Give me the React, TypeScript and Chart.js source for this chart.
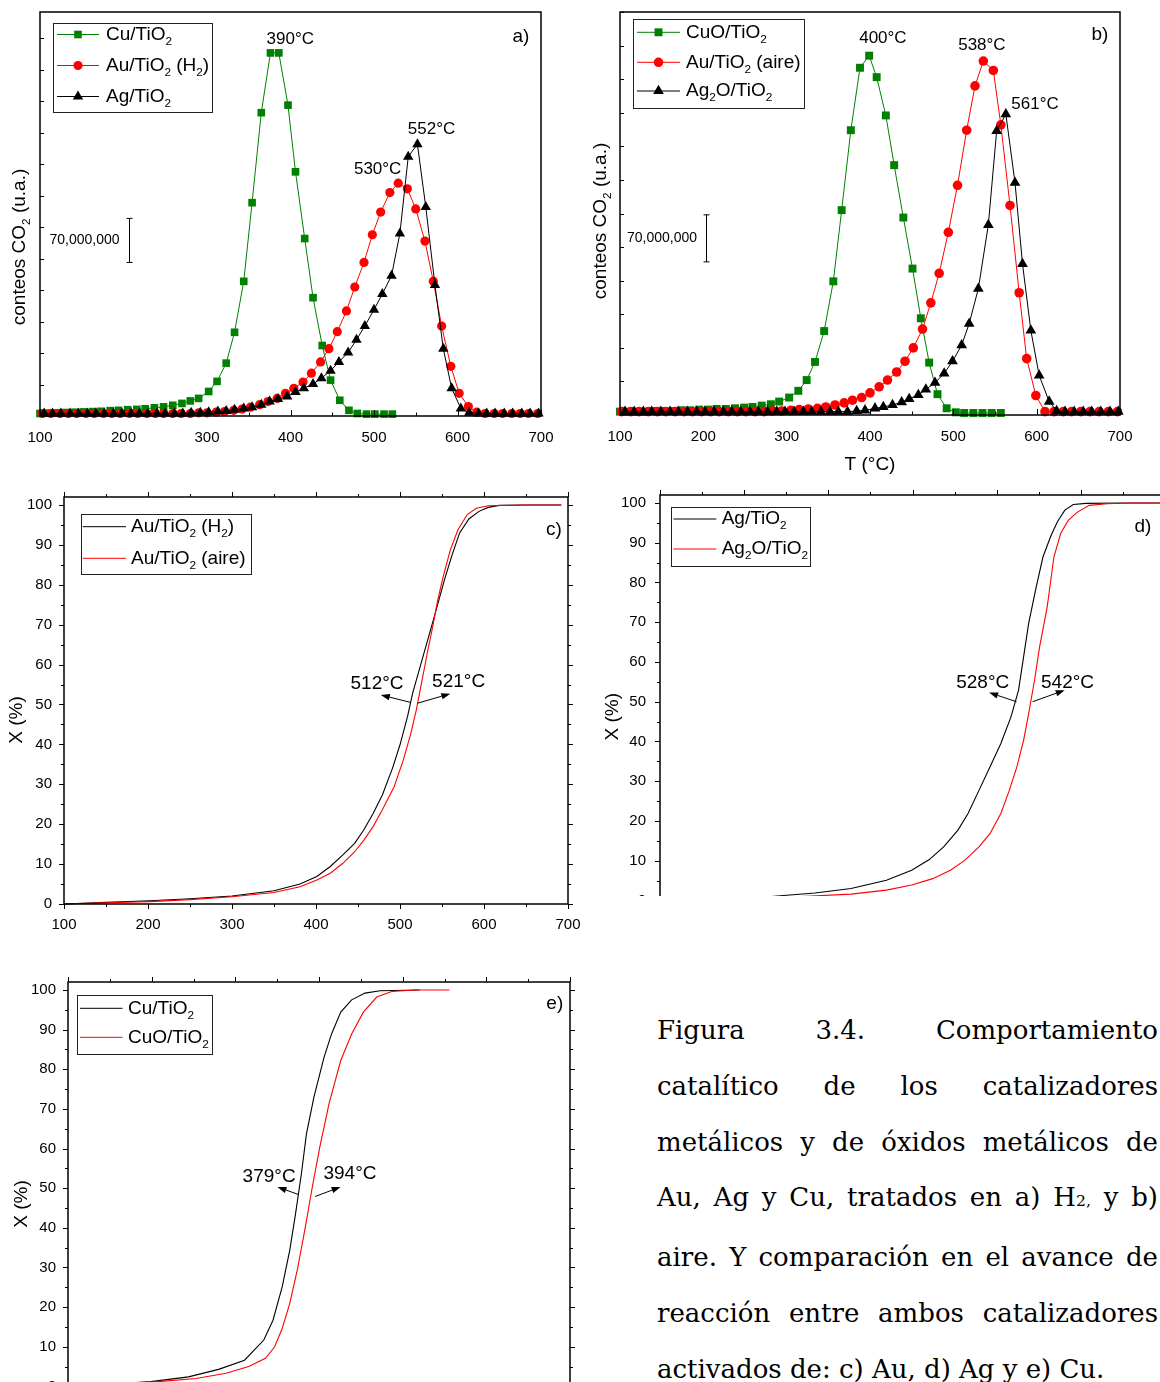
import React, { useEffect, useRef } from 'react';
import { Chart, registerables } from 'chart.js';

Chart.register(...registerables);

// ================= DATA =================
// Panel a) — activated in H2 : CO2 counts (×10^6 a.u.) vs T (°C)
const cuTempA = [100,110,121,131,142,152,163,173,184,194,205,216,226,237,248,259,270,280,290,302,312,323,333,344,354,365,376,386,397,406,417,427,438,448,459,470,480,491,501,512,522];
const cuCountA = [4,4.5,5,5.5,6,6.5,7,7.5,8.5,9,10,10.5,11.5,13,14.5,17,20,24,28,39,55,84,133,214,339,482,577,577,494,388,282,188,112,57,25,9,4,3,3,3,3];
const auTempA = [103,113,124,134,144,155,165,176,186,196,207,217,228,238,248,259,269,280,290,300,311,321,332,342,352,363,373,384,394,404,415,425,436,446,456,467,477,488,498,508,519,529,540,550,561,571,581,592,602,613,623,633,644,654,665,675,685,696];
const auCountA = [4,4,4,4,4,4,4,4,4,4,4,4,4,4,4,4,4,4,5,5,6,7,9,11,14,18,23,28,36,44,54,68,86,107,134,167,205,244,288,324,355,370,361,329,278,214,143,79,36,15,6,4,4,4,4,4,4,4];
const agTempA = [105,115,125,136,146,157,167,177,188,198,209,219,229,240,250,261,271,281,292,302,313,323,333,344,354,365,375,385,396,406,416,427,437,448,458,469,479,489,500,510,521,531,541,552,562,573,583,593,604,614,625,635,645,656,666,677,687,697];
const agCountA = [4,4,4,4,4,4,4,4,4,4,4,4,4,4,4,4,4,5,5,6,7,8,10,12,14,18,23,27,31,38,44,51,60,72,86,101,121,143,169,194,223,290,412,432,332,208,107,44,12,5,4,4,4,4,4,4,4,4];

// Panel b) — activated in air
const cuoTempB = [100,109,120,131,141,152,163,174,184,195,206,216,227,238,249,259,270,281,291,303,314,324,334,345,356,366,377,388,399,408,419,429,440,451,461,471,481,492,503,513,524,535,546,557];
const cuoCountB = [5,5,5,5,6,6,6,7,7,8,8,9,9,10,11,12,14,16,20,26,36,52,79,125,199,305,424,517,535,503,446,372,294,218,144,78,31,10,4,3,3,3,3,3];
const auTempB = [102,113,123,134,145,155,166,177,187,198,209,219,230,241,251,262,273,283,294,305,315,326,337,347,358,369,379,390,400,411,421,432,442,452,463,473,483,494,505,516,526,536,548,557,568,579,588,599,610,621,632,642,653,664,675,686,697];
const auCountB = [5,5,5,5,5,5,5,5,5,5,5,5,5,5,5,5,5,6,6,7,8,9,10,12,15,18,22,26,33,42,52,64,80,100,128,167,211,272,342,424,490,527,513,432,312,182,84,29,5,5,5,5,5,5,5,5,5];
const agoTempB = [106,117,128,138,149,160,170,181,192,202,213,224,234,245,256,266,277,288,298,309,320,330,341,352,362,373,384,394,406,416,427,438,447,458,467,478,489,499,510,519,530,542,552,563,574,583,593,603,615,624,634,645,656,666,677,688,698];
const agoCountB = [5,5,5,5,5,5,5,5,5,5,5,5,5,5,5,5,5,5,5,5,5,5,5,5,5,5,6,7,10,12,15,19,24,30,38,48,62,80,104,136,188,283,423,448,346,225,126,59,20,6,5,5,5,5,5,5,5];

// Panel c) — conversion X (%) Au
const auH2TempC = [100,150,202,250,300,350,381,401,417,432,446,457,468,479,491,500,509,515,524,533,542,553,562,571,582,594,605,618,649,692];
const auH2ConvC = [0,0.4,0.8,1.3,2.0,3.3,5.0,6.9,9.4,12.3,15.2,18.6,22.7,27.3,34.0,39.9,47.0,52.8,59.5,66.2,72.9,81.3,87.5,93.0,96.5,98.4,99.4,99.9,100,100];
const auAirTempC = [100,150,202,250,300,350,381,401,417,432,446,457,468,479,493,504,513,519.5,526,532.5,539,545,551.5,560,569,580,591,605,649,692];
const auAirConvC = [0,0.3,0.6,1.1,1.8,2.9,4.3,6.0,7.7,10.2,13.1,16.0,19.4,23.6,29.4,36.1,42.8,48.7,55.8,62.9,69.6,76.3,82.1,88.8,93.8,97.6,99.2,99.8,100,100];

// Panel d) — conversion X (%) Ag
const agTempD = [100,160,221,284,327,369,399,420,437,454,466,479,492,505,517,526,532,538,547,555,564,572,581,591,606,650,694];
const agConvD = [0,0.2,0.8,1.9,3.0,5.1,7.6,10.3,13.5,17.7,21.9,27.7,33.6,39.5,46.2,52.9,61.3,69.7,78.9,86.4,91.5,95.2,98.2,99.6,99.9,100,100];
const agoTempD = [100,180,250,327,369,399,424,445,462,479,492,505,515,524,532,538,545,551,560,568,576,585,596,610,631,660,694];
const agoConvD = [0,0.2,0.8,1.6,2.6,3.9,5.5,7.6,10.1,13.5,16.8,21.9,27.7,33.6,40.3,47.0,55.4,63.8,73.8,86.4,92.3,95.6,97.7,99.4,99.8,100,100];

// Panel e) — conversion X (%) Cu
const cuTempE = [100,150,199,244,280,311,334,345,356,365,372,379,385,394,406,415,426,439,455,473,520];
const cuConvE = [0,0.5,1.2,2.4,4.3,6.6,11.7,16.7,25.1,34.3,43.6,53.7,63.7,73.0,83.0,88.9,94.4,97.5,99.2,99.8,100];
const cuoTempE = [100,150,208,253,289,316,336,347,356,365,374,383,392,401,412,426,439,453,469,487,514,556];
const cuoConvE = [0,0.4,1.2,2.0,3.3,5.0,7.1,10.0,14.6,20.9,29.3,39.4,50.3,60.4,71.3,82.2,88.9,94.4,98.2,99.6,100,100];

// Ticks
const tempTicks = [100, 200, 300, 400, 500, 600, 700];
const tempMinorTicks = [150, 250, 350, 450, 550, 650];
const countTicks = [50, 100, 150, 200, 250, 300, 350, 400, 450, 500, 550, 600];
const convTicks = [0, 10, 20, 30, 40, 50, 60, 70, 80, 90, 100];
const convMinorTicks = [5, 15, 25, 35, 45, 55, 65, 75, 85, 95];

// Labels ("_x" = subscript x)
const legendA = ['Cu/TiO_2', 'Au/TiO_2 (H_2)', 'Ag/TiO_2'];
const legendB = ['CuO/TiO_2', 'Au/TiO_2 (aire)', 'Ag_2O/TiO_2'];
const legendC = ['Au/TiO_2 (H_2)', 'Au/TiO_2 (aire)'];
const legendD = ['Ag/TiO_2', 'Ag_2O/TiO_2'];
const legendE = ['Cu/TiO_2', 'CuO/TiO_2'];
const yTitleCounts = 'conteos CO_2 (u.a.)';
const yTitleConv = 'X (%)';
const xTitleTemp = 'T (°C)';
const scaleBarText = '70,000,000';

// Annotations (data coordinates)
const peaksA = [
  { text: '390°C', t: 399.8, v: 598 },
  { text: '530°C', t: 504.4, v: 392 },
  { text: '552°C', t: 568.9, v: 456 },
];
const peaksB = [
  { text: '400°C', t: 415.5, v: 561 },
  { text: '538°C', t: 534.3, v: 551 },
  { text: '561°C', t: 598.1, v: 463 },
];
const t50C = [
  { text: '512°C', t: 472.7, v: 55.3 },
  { text: '521°C', t: 569.8, v: 55.8 },
];
const arrowsC = [
  { t0: 513, v0: 50.5, t1: 477.2, v1: 52.4 },
  { t0: 520.6, v0: 50.3, t1: 559.9, v1: 52.7 },
];
const t50D = [
  { text: '528°C', t: 483.4, v: 54.8 },
  { text: '542°C', t: 584.2, v: 54.8 },
];
const arrowsD = [
  { t0: 523.6, v0: 50, t1: 491, v1: 52.3 },
  { t0: 542.7, v0: 50, t1: 580.8, v1: 52.9 },
];
const t50E = [
  { text: '379°C', t: 340.4, v: 53.0 },
  { text: '394°C', t: 437, v: 53.7 },
];
const arrowsE = [
  { t0: 375.5, v0: 48.4, t1: 350.3, v1: 50.3 },
  { t0: 395.3, v0: 47.9, t1: 425.8, v1: 50.3 },
];

// ================= STYLE / HELPERS =================
const FONT = "'Liberation Sans', Arial, Helvetica, sans-serif";
const GREEN = '#008000';
const RED = '#FF0000';
const BLACK = '#000000';

type Marker = 'rect' | 'circle' | 'triangle';
type Series = { label: string; x: number[]; y: number[]; color: string; marker?: Marker; r?: number; order: number; lw: number };
type Note = { text: string; t: number; v: number };
type Arrow = { t0: number; v0: number; t1: number; v1: number };
type Decor = {
  tickDir: 'in' | 'out';
  mirror: boolean;
  xMajor: number[]; xMinor: number[]; yMajor: number[]; yMinor: number[];
  xMajorLen: number; xMinorLen: number; yMajorLen: number; yMinorLen: number;
  frameWidth: number;
  yTitle: { text: string; x: number; y: number; size: number };
  xTitle?: { text: string; y: number; size: number };
  legend: { x: number; y: number; w: number; h: number; rows: number[]; x0: number; x1: number; textX: number; size: number };
  panel: { text: string; x: number; y: number; size: number };
  notes: Note[]; noteSize: number;
  arrows: Arrow[];
  bar?: { t: number; v0: number; v1: number; text: string; size: number; gap: number };
};
type PanelSpec = {
  W: number; H: number;
  area: { l: number; t: number; r: number; b: number };
  xMin: number; xMax: number; yMin: number; yMax: number;
  xTickVals: number[]; yTickVals: number[]; showYLabels: boolean;
  xLabelPad: number; yLabelPad: number; tickFont: number;
  series: Series[];
  decor: Decor;
};

const fontStr = (size: number) => `${size}px ${FONT}`;

function parseRich(s: string) {
  const out: { t: string; sub: boolean }[] = [];
  let buf = '';
  for (let i = 0; i < s.length; i++) {
    if (s[i] === '_' && i + 1 < s.length) {
      if (buf) out.push({ t: buf, sub: false });
      buf = '';
      out.push({ t: s[i + 1], sub: true });
      i++;
    } else buf += s[i];
  }
  if (buf) out.push({ t: buf, sub: false });
  return out;
}

function drawRich(ctx: CanvasRenderingContext2D, s: string, x: number, y: number, size: number, align: 'left' | 'center' | 'right') {
  const segs = parseRich(s);
  const subSize = size * 0.62;
  let w = 0;
  for (const g of segs) {
    ctx.font = fontStr(g.sub ? subSize : size);
    w += ctx.measureText(g.t).width;
  }
  let cx = align === 'left' ? x : align === 'center' ? x - w / 2 : x - w;
  ctx.textAlign = 'left';
  ctx.textBaseline = 'middle';
  for (const g of segs) {
    ctx.font = fontStr(g.sub ? subSize : size);
    ctx.fillText(g.t, cx, g.sub ? y + size * 0.38 : y);
    cx += ctx.measureText(g.t).width;
  }
}

function drawMarker(ctx: CanvasRenderingContext2D, kind: Marker, x: number, y: number, r: number, color: string) {
  ctx.fillStyle = color;
  ctx.beginPath();
  if (kind === 'rect') {
    const h = r * Math.SQRT1_2;
    ctx.rect(x - h, y - h, 2 * h, 2 * h);
  } else if (kind === 'circle') {
    ctx.arc(x, y, r, 0, Math.PI * 2);
  } else {
    for (let k = 0; k < 3; k++) {
      const a = (k * 2 * Math.PI) / 3;
      const px = x + Math.sin(a) * r;
      const py = y - Math.cos(a) * r;
      if (k === 0) ctx.moveTo(px, py);
      else ctx.lineTo(px, py);
    }
    ctx.closePath();
  }
  ctx.fill();
}

function makeDecor(p: PanelSpec) {
  const d = p.decor;
  return {
    id: 'decor',
    afterDraw(chart: any) {
      const ctx: CanvasRenderingContext2D = chart.ctx;
      const a = chart.chartArea;
      const xs = chart.scales.x;
      const ys = chart.scales.y;
      const line = (x0: number, y0: number, x1: number, y1: number) => {
        ctx.beginPath();
        ctx.moveTo(x0, y0);
        ctx.lineTo(x1, y1);
        ctx.stroke();
      };
      ctx.save();
      // ticks
      ctx.strokeStyle = '#000';
      ctx.lineWidth = 1;
      const s = d.tickDir === 'in' ? -1 : 1;
      const tx = (vals: number[], len: number) => {
        if (!len) return;
        vals.forEach((v) => {
          const px = Math.round(xs.getPixelForValue(v)) + 0.5;
          line(px, a.bottom, px, a.bottom + s * len);
          if (d.mirror) line(px, a.top, px, a.top - s * len);
        });
      };
      const ty = (vals: number[], len: number) => {
        if (!len) return;
        vals.forEach((v) => {
          const py = Math.round(ys.getPixelForValue(v)) + 0.5;
          line(a.left, py, a.left - s * len, py);
          if (d.mirror) line(a.right, py, a.right + s * len, py);
        });
      };
      tx(d.xMajor, d.xMajorLen);
      tx(d.xMinor, d.xMinorLen);
      ty(d.yMajor, d.yMajorLen);
      ty(d.yMinor, d.yMinorLen);
      // frame
      ctx.lineWidth = d.frameWidth;
      ctx.strokeRect(a.left, a.top, a.right - a.left, a.bottom - a.top);

      ctx.fillStyle = '#000';
      // y title
      ctx.save();
      ctx.translate(d.yTitle.x, d.yTitle.y);
      ctx.rotate(-Math.PI / 2);
      drawRich(ctx, d.yTitle.text, 0, 0, d.yTitle.size, 'center');
      ctx.restore();
      // x title
      if (d.xTitle) drawRich(ctx, d.xTitle.text, (a.left + a.right) / 2, d.xTitle.y, d.xTitle.size, 'center');

      // legend
      const L = d.legend;
      ctx.fillStyle = '#fff';
      ctx.fillRect(L.x, L.y, L.w, L.h);
      ctx.strokeStyle = '#222';
      ctx.lineWidth = 1;
      ctx.strokeRect(Math.round(L.x) + 0.5, Math.round(L.y) + 0.5, Math.round(L.w), Math.round(L.h));
      p.series.forEach((sr, i) => {
        const yy = L.rows[i];
        ctx.strokeStyle = sr.color;
        ctx.lineWidth = 1;
        line(L.x0, yy, L.x1, yy);
        if (sr.marker) drawMarker(ctx, sr.marker, (L.x0 + L.x1) / 2, yy, sr.r || 5, sr.color);
        ctx.fillStyle = '#000';
        drawRich(ctx, sr.label, L.textX, yy, L.size, 'left');
      });

      // panel label
      ctx.fillStyle = '#000';
      drawRich(ctx, d.panel.text, d.panel.x, d.panel.y, d.panel.size, 'center');

      // notes
      d.notes.forEach((n) => {
        drawRich(ctx, n.text, xs.getPixelForValue(n.t), ys.getPixelForValue(n.v), d.noteSize, 'center');
      });

      // arrows
      ctx.strokeStyle = '#000';
      ctx.fillStyle = '#000';
      ctx.lineWidth = 1;
      d.arrows.forEach((ar) => {
        const x0 = xs.getPixelForValue(ar.t0), y0 = ys.getPixelForValue(ar.v0);
        const x1 = xs.getPixelForValue(ar.t1), y1 = ys.getPixelForValue(ar.v1);
        const ang = Math.atan2(y1 - y0, x1 - x0);
        const HL = 9, HW = 3.2;
        const bx = x1 - HL * Math.cos(ang), by = y1 - HL * Math.sin(ang);
        line(x0, y0, bx, by);
        ctx.beginPath();
        ctx.moveTo(x1, y1);
        ctx.lineTo(bx + HW * Math.sin(ang), by - HW * Math.cos(ang));
        ctx.lineTo(bx - HW * Math.sin(ang), by + HW * Math.cos(ang));
        ctx.closePath();
        ctx.fill();
      });

      // scale bar
      if (d.bar) {
        const b = d.bar;
        const px = Math.round(xs.getPixelForValue(b.t)) + 0.5;
        const p0 = ys.getPixelForValue(b.v0), p1 = ys.getPixelForValue(b.v1);
        ctx.strokeStyle = '#000';
        ctx.lineWidth = 1;
        line(px, p0, px, p1);
        line(px - 3, p0, px + 3, p0);
        line(px - 3, p1, px + 3, p1);
        ctx.fillStyle = '#000';
        drawRich(ctx, b.text, px - b.gap, (p0 + p1) / 2, b.size, 'right');
      }
      ctx.restore();
    },
  };
}

const zeroPad = (sc: any) => {
  sc.paddingLeft = 0;
  sc.paddingRight = 0;
  sc.paddingTop = 0;
  sc.paddingBottom = 0;
};

function buildChart(canvas: HTMLCanvasElement, p: PanelSpec) {
  const datasets = p.series.map((s) => ({
    label: s.label,
    data: s.x.map((xv, i) => ({ x: xv, y: s.y[i] })),
    showLine: true,
    borderColor: s.color,
    backgroundColor: s.color,
    borderWidth: s.lw,
    pointStyle: s.marker || 'circle',
    pointRadius: s.marker ? s.r : 0,
    pointHoverRadius: s.marker ? s.r : 0,
    pointBorderWidth: 0,
    pointBackgroundColor: s.color,
    tension: 0,
    order: s.order,
    clip: false,
  }));
  return new Chart(canvas, {
    type: 'scatter',
    data: { datasets } as any,
    options: {
      animation: false,
      responsive: false,
      maintainAspectRatio: false,
      events: [],
      layout: { autoPadding: false, padding: { left: 0, top: p.area.t, right: p.W - p.area.r, bottom: 0 } },
      plugins: { legend: { display: false }, tooltip: { enabled: false }, title: { display: false } },
      scales: {
        x: {
          type: 'linear',
          position: 'bottom',
          min: p.xMin,
          max: p.xMax,
          grid: { display: false, drawTicks: false, tickLength: 0 },
          border: { display: false },
          afterFit: (sc: any) => { sc.height = p.H - p.area.b; zeroPad(sc); },
          afterBuildTicks: (sc: any) => { sc.ticks = p.xTickVals.map((v) => ({ value: v })); },
          ticks: {
            display: true, autoSkip: false, maxRotation: 0, minRotation: 0,
            padding: p.xLabelPad, color: '#000',
            font: { family: FONT, size: p.tickFont },
            callback: (v: any) => String(v),
          },
        },
        y: {
          type: 'linear',
          position: 'left',
          min: p.yMin,
          max: p.yMax,
          grid: { display: false, drawTicks: false, tickLength: 0 },
          border: { display: false },
          afterFit: (sc: any) => { sc.width = p.area.l; zeroPad(sc); },
          afterBuildTicks: (sc: any) => { sc.ticks = p.yTickVals.map((v) => ({ value: v })); },
          ticks: {
            display: p.showYLabels, autoSkip: false,
            padding: p.yLabelPad, color: '#000',
            font: { family: FONT, size: p.tickFont },
            callback: (v: any) => String(v),
          },
        },
      },
    } as any,
    plugins: [makeDecor(p)],
  });
}

// ================= PANELS =================
const panelA: PanelSpec = {
  W: 560, H: 460, area: { l: 40, t: 12, r: 541, b: 416 },
  xMin: 100, xMax: 700, yMin: 0, yMax: 642,
  xTickVals: tempTicks, yTickVals: countTicks, showYLabels: false,
  xLabelPad: 13, yLabelPad: 10, tickFont: 15,
  series: [
    { label: legendA[0], x: cuTempA, y: cuCountA, color: GREEN, marker: 'rect', r: 5.4, order: 2, lw: 1 },
    { label: legendA[1], x: auTempA, y: auCountA, color: RED, marker: 'circle', r: 4.6, order: 1, lw: 1 },
    { label: legendA[2], x: agTempA, y: agCountA, color: BLACK, marker: 'triangle', r: 6, order: 0, lw: 1 },
  ],
  decor: {
    tickDir: 'in', mirror: false,
    xMajor: tempTicks, xMinor: tempMinorTicks, yMajor: countTicks, yMinor: [],
    xMajorLen: 6, xMinorLen: 3.5, yMajorLen: 4, yMinorLen: 0, frameWidth: 1.5,
    yTitle: { text: yTitleCounts, x: 19.5, y: 247, size: 19 },
    legend: { x: 53, y: 23, w: 159, h: 89, rows: [34.5, 65.5, 96.5], x0: 57, x1: 99, textX: 106, size: 19 },
    panel: { text: 'a)', x: 521, y: 37, size: 19 },
    notes: peaksA, noteSize: 17,
    arrows: [],
    bar: { t: 206.3, v0: 244, v1: 314, text: scaleBarText, size: 14, gap: 10 },
  },
};

const panelB: PanelSpec = {
  W: 580, H: 480, area: { l: 40, t: 12, r: 540, b: 415 },
  xMin: 100, xMax: 700, yMin: 0, yMax: 600,
  xTickVals: tempTicks, yTickVals: countTicks, showYLabels: false,
  xLabelPad: 13, yLabelPad: 10, tickFont: 15,
  series: [
    { label: legendB[0], x: cuoTempB, y: cuoCountB, color: GREEN, marker: 'rect', r: 5.6, order: 2, lw: 1 },
    { label: legendB[1], x: auTempB, y: auCountB, color: RED, marker: 'circle', r: 4.8, order: 1, lw: 1 },
    { label: legendB[2], x: agoTempB, y: agoCountB, color: BLACK, marker: 'triangle', r: 6.2, order: 0, lw: 1 },
  ],
  decor: {
    tickDir: 'in', mirror: false,
    xMajor: tempTicks, xMinor: tempMinorTicks, yMajor: countTicks, yMinor: [],
    xMajorLen: 6, xMinorLen: 3.5, yMajorLen: 4, yMinorLen: 0, frameWidth: 1.5,
    yTitle: { text: yTitleCounts, x: 20.4, y: 221, size: 19 },
    xTitle: { text: xTitleTemp, y: 465, size: 19 },
    legend: { x: 53, y: 19, w: 171, h: 89, rows: [32.3, 62.3, 91], x0: 57, x1: 100, textX: 106, size: 19 },
    panel: { text: 'b)', x: 520, y: 35, size: 19 },
    notes: peaksB, noteSize: 17,
    arrows: [],
    bar: { t: 202.8, v0: 228, v1: 298, text: scaleBarText, size: 14, gap: 9.5 },
  },
};

const convDecorBase = {
  tickDir: 'out' as const, mirror: true,
  xMajor: tempTicks, xMinor: tempMinorTicks, yMajor: convTicks, yMinor: convMinorTicks,
  xMajorLen: 5, xMinorLen: 3, yMajorLen: 5, yMinorLen: 3, frameWidth: 1.5,
  noteSize: 19,
};

const panelC: PanelSpec = {
  W: 590, H: 460, area: { l: 64, t: 17, r: 568, b: 424 },
  xMin: 100, xMax: 700, yMin: 0, yMax: 102,
  xTickVals: tempTicks, yTickVals: convTicks, showYLabels: true,
  xLabelPad: 12, yLabelPad: 12, tickFont: 15,
  series: [
    { label: legendC[0], x: auH2TempC, y: auH2ConvC, color: BLACK, order: 1, lw: 1.1 },
    { label: legendC[1], x: auAirTempC, y: auAirConvC, color: RED, order: 0, lw: 1.1 },
  ],
  decor: {
    ...convDecorBase,
    yTitle: { text: yTitleConv, x: 17, y: 240, size: 19 },
    legend: { x: 80.5, y: 34.3, w: 169.5, h: 59.7, rows: [46.7, 78.3], x0: 82.8, x1: 126, textX: 131, size: 19 },
    panel: { text: 'c)', x: 554, y: 50, size: 19 },
    notes: t50C,
    arrows: arrowsC,
  },
};

const panelD: PanelSpec = {
  W: 580, H: 440, area: { l: 60, t: 15, r: 565, b: 420.5 },
  xMin: 100, xMax: 700, yMin: 0, yMax: 102,
  xTickVals: tempTicks, yTickVals: convTicks, showYLabels: true,
  xLabelPad: 12, yLabelPad: 14, tickFont: 15,
  series: [
    { label: legendD[0], x: agTempD, y: agConvD, color: BLACK, order: 1, lw: 1.1 },
    { label: legendD[1], x: agoTempD, y: agoConvD, color: RED, order: 0, lw: 1.1 },
  ],
  decor: {
    ...convDecorBase,
    yTitle: { text: yTitleConv, x: 12.6, y: 236.7, size: 19 },
    legend: { x: 70.7, y: 26.7, w: 139.3, h: 59, rows: [39, 69], x0: 73.5, x1: 116.3, textX: 121.7, size: 19 },
    panel: { text: 'd)', x: 543, y: 46.7, size: 19 },
    notes: t50D,
    arrows: arrowsD,
  },
};

const panelE: PanelSpec = {
  W: 590, H: 470, area: { l: 68, t: 22, r: 570, b: 426.4 },
  xMin: 100, xMax: 700, yMin: 0, yMax: 102,
  xTickVals: tempTicks, yTickVals: convTicks, showYLabels: true,
  xLabelPad: 12, yLabelPad: 12, tickFont: 15,
  series: [
    { label: legendE[0], x: cuTempE, y: cuConvE, color: BLACK, order: 1, lw: 1.1 },
    { label: legendE[1], x: cuoTempE, y: cuoConvE, color: RED, order: 0, lw: 1.1 },
  ],
  decor: {
    ...convDecorBase,
    yTitle: { text: yTitleConv, x: 21.8, y: 244, size: 19 },
    legend: { x: 77, y: 35, w: 134.6, h: 59.3, rows: [48.3, 77.3], x0: 80, x1: 122.5, textX: 128, size: 19 },
    panel: { text: 'e)', x: 554.8, y: 43.3, size: 19 },
    notes: t50E,
    arrows: arrowsE,
  },
};

function ChartPanel({ spec, left, top, clipW, clipH }: { spec: PanelSpec; left: number; top: number; clipW: number; clipH: number }) {
  const ref = useRef<HTMLCanvasElement>(null);
  useEffect(() => {
    if (!ref.current) return;
    const c = buildChart(ref.current, spec);
    return () => c.destroy();
  }, [spec]);
  return (
    <div style={{ position: 'absolute', left, top, width: clipW, height: clipH, overflow: 'hidden' }}>
      <canvas ref={ref} width={spec.W} height={spec.H} style={{ display: 'block', width: spec.W, height: spec.H }} />
    </div>
  );
}

const captionStyle: React.CSSProperties = {
  position: 'absolute',
  left: 657,
  top: 1003,
  width: 501,
  fontFamily: "'DejaVu Serif', 'Liberation Serif', serif",
  fontSize: 26,
  lineHeight: '55.8px',
  color: '#000',
};
const justLine: React.CSSProperties = { textAlign: 'justify', textAlignLast: 'justify' as any, margin: 0 };

function Caption() {
  return (
    <div style={captionStyle}>
      <div style={justLine}>Figura 3.4. Comportamiento</div>
      <div style={justLine}>catalítico de los catalizadores</div>
      <div style={justLine}>metálicos y de óxidos metálicos de</div>
      <div style={justLine}>
        Au, Ag y Cu, tratados en a) H<span style={{ fontSize: '0.6em' }}>2,</span> y b)
      </div>
      <div style={justLine}>aire. Y comparación en el avance de</div>
      <div style={justLine}>reacción entre ambos catalizadores</div>
      <div style={{ textAlign: 'left', margin: 0 }}>activados de: c) Au, d) Ag y e) Cu.</div>
    </div>
  );
}

export default function App() {
  return (
    <div style={{ position: 'fixed', left: 0, top: 0, width: 1160, height: 1382, overflow: 'hidden', background: '#fff' }}>
      <ChartPanel spec={panelA} left={0} top={0} clipW={560} clipH={460} />
      <ChartPanel spec={panelB} left={580} top={0} clipW={580} clipH={480} />
      <ChartPanel spec={panelC} left={0} top={480} clipW={590} clipH={460} />
      <ChartPanel spec={panelD} left={600} top={480} clipW={560} clipH={416} />
      <ChartPanel spec={panelE} left={0} top={960} clipW={590} clipH={422} />
      <Caption />
    </div>
  );
}
